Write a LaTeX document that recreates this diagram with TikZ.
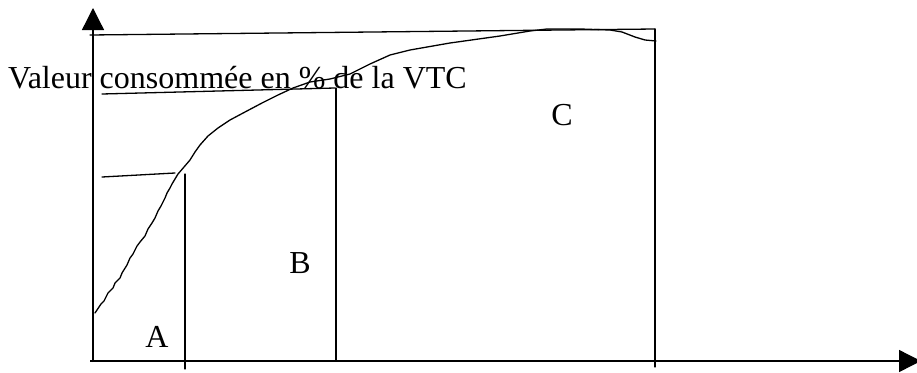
\documentclass[tikz,border=0pt]{standalone}
\usepackage{fontspec}
\setmainfont{Liberation Serif}
\usetikzlibrary{arrows.meta}
\begin{document}
\begin{tikzpicture}[x=1pt,y=-1pt,
  ln/.style={line width=1.3pt, line cap=round},
  axis/.style={line width=1.3pt, -{Triangle[length=22pt,width=22pt]}},
  lbl/.style={font=\fontsize{32}{34}\selectfont, inner sep=0pt}]
\useasboundingbox (0,0) rectangle (917,372);
% axes
\coordinate (o) at (93,362);
\coordinate (ytop) at (93,8);
\coordinate (xstart) at (90,361);
\coordinate (xend) at (921,361);
\draw[axis] (o) -- (ytop);
\draw[axis] (xstart) -- (xend);
% top line
\draw[ln] (90,35) -- (655,29);
% level lines
\draw[ln] (102,94) -- (335,88);
\draw[ln] (102,177) -- (175,173);
% verticals
\draw[ln] (185,174) -- (185,369);
\draw[ln] (336,88) -- (336,361);
\draw[ln] (655,29) -- (655,367);
% curve
\draw[ln, line join=round] (95,313) -- (101,304) -- (104,301) -- (108,293) -- (113,288) -- (115,283) -- (120,278)
  -- (122,273) -- (127,265) -- (130,258) -- (133,254) -- (137,246) -- (140,242) -- (145,236) -- (148,229)
  -- (152,223) -- (155,218) -- (158,211) -- (161,206) -- (165,198) -- (167,193) -- (170,188) -- (172,184)
  -- (175,179) -- (178,174) -- (184,167) -- (190,160) -- (195,152) -- (200,145) -- (208,136) -- (218,128)
  -- (230,120) -- (245,112) -- (262,103) -- (278,95) -- (293,88) -- (310,82) -- (330,79) -- (350,74)
  -- (370,64) -- (390,55) -- (410,50) -- (450,43) -- (500,36) -- (530,31) -- (547,29) -- (580,29)
  -- (610,30) -- (622,32) -- (635,37) -- (645,40) -- (656,41);
% texts
\node[lbl, anchor=base west] (title) at (8,88) {Valeur consommée en \% de la VTC};
\node[lbl] (A) at (157,337) {A};
\node[lbl] (B) at (300,263) {B};
\node[lbl] (C) at (562,115) {C};
\end{tikzpicture}
\end{document}
